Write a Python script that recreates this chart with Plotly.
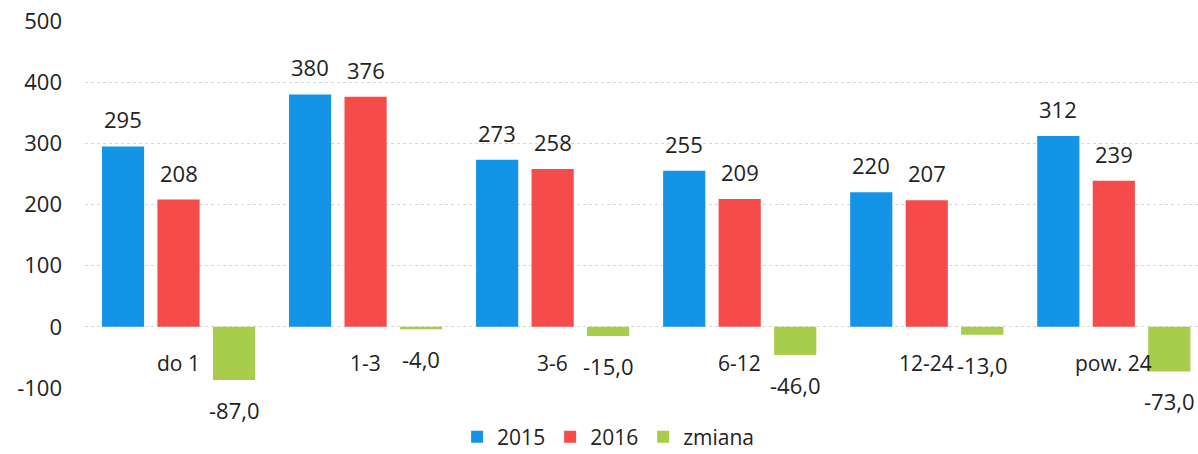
import plotly.graph_objects as go

categories = ["do 1", "1-3", "3-6", "6-12", "12-24", "pow. 24"]
v2015 = [295, 380, 273, 255, 220, 312]
v2016 = [208, 376, 258, 209, 207, 239]
zmiana = [-87.0, -4.0, -15.0, -46.0, -13.0, -73.0]
series_names = ["2015", "2016", "zmiana"]
colors = ["#1494E6", "#F54B4B", "#A8CC4C"]
yticks = [-100, 0, 100, 200, 300, 400, 500]
yticktext = ["-100", "0", "100", "200", "300", "400", "500"]

FONT = "Open Sans, Liberation Sans, sans-serif"
bargap = 0.11
slot = (1 - bargap) / 3

fig = go.Figure()
idx = list(range(len(categories)))
for name, vals, col in zip(series_names, [v2015, v2016, zmiana], colors):
    fig.add_trace(go.Bar(x=idx, y=vals, name=name, marker=dict(color=col, line=dict(width=0))))

def fmt_int(v):
    return f"{int(v)}"

def fmt_dec(v):
    return f"{v:.1f}".replace(".", ",")

ann = []
for k, (vals, fmt) in enumerate([(v2015, fmt_int), (v2016, fmt_int), (zmiana, fmt_dec)]):
    off = (k - 1) * slot
    for i, v in enumerate(vals):
        ann.append(dict(x=i + off, y=v, xref="x", yref="y", text=fmt(v), showarrow=False,
                        yanchor="middle", yshift=27 if v >= 0 else -30,
                        font=dict(family=FONT, size=22, color="#222222")))
for i, c in enumerate(categories):
    ann.append(dict(x=i, y=0, xref="x", yref="y", text=c, showarrow=False,
                    yanchor="middle", yshift=-36,
                    font=dict(family=FONT, size=21, color="#222222")))

fig.update_layout(
    width=1198, height=454,
    margin=dict(l=85, r=0, t=21, b=66, autoexpand=False),
    paper_bgcolor="white", plot_bgcolor="white",
    barmode="group", bargap=bargap, bargroupgap=0.24,
    font=dict(family=FONT, size=21, color="#222222"),
    xaxis=dict(range=[-0.5, 5.45], showticklabels=False, showgrid=False,
               zeroline=False, showline=False, ticks="", automargin=False),
    yaxis=dict(range=[-100, 500], tickvals=yticks, ticktext=yticktext, showgrid=True,
               gridcolor="#d6d6de", griddash="dot", gridwidth=1, automargin=False,
               zeroline=False, showline=False, ticklabelstandoff=22,
               tickfont=dict(family=FONT, size=22, color="#222222")),
    legend=dict(orientation="h", x=0.47, xanchor="center", y=-0.134, yanchor="middle",
                font=dict(family=FONT, size=21, color="#222222"),
                itemwidth=30, traceorder="normal"),
    annotations=ann,
)

fig.write_html("out.html", config={"displayModeBar": False},
               post_script="document.body.style.margin='0';document.body.style.overflow='hidden';")
